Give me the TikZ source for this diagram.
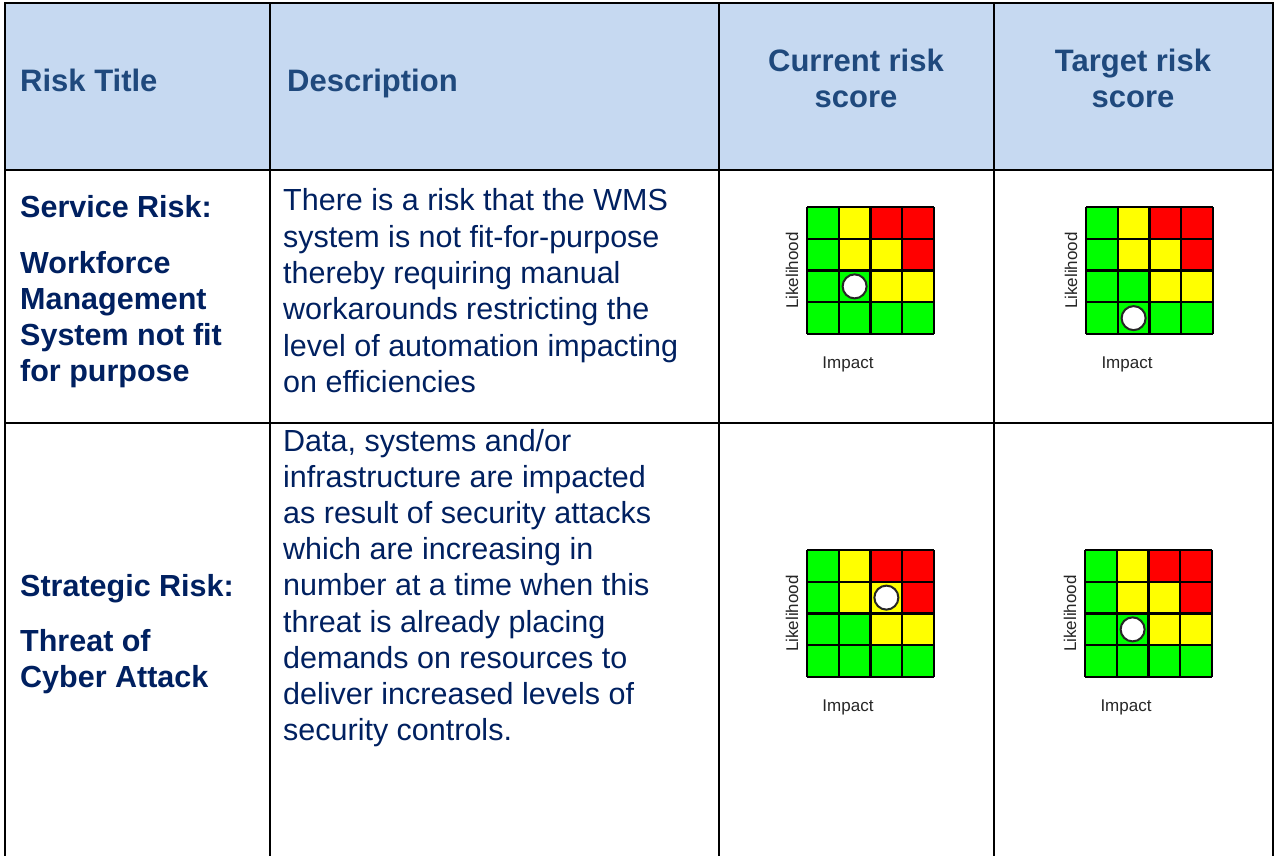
\documentclass[tikz,border=0pt]{standalone}
\usepackage{fontspec}
\setmainfont{Liberation Sans}
\definecolor{hdrfill}{RGB}{198,217,241}
\definecolor{hdrtext}{RGB}{31,73,125}
\definecolor{bodytext}{RGB}{0,32,96}
\definecolor{rg}{RGB}{0,255,0}
\definecolor{ry}{RGB}{255,255,0}
\definecolor{rr}{RGB}{255,0,0}
\tikzset{
  tblline/.style={line width=2.2pt, black},
  hdrlbl/.style={font=\fontsize{31}{36}\selectfont\bfseries, text=hdrtext, inner sep=0pt},
  titlelbl/.style={font=\fontsize{30.5}{36}\selectfont\bfseries, text=bodytext, inner sep=0pt, anchor=base west},
  desclbl/.style={font=\fontsize{30.5}{36}\selectfont, text=bodytext, inner sep=0pt, anchor=base west},
  axislbl/.style={font=\fontsize{17}{20}\selectfont, text=black!85, inner sep=0pt},
  gridline/.style={line width=2.2pt, black},
  marker/.style={circle, draw=black!85, line width=2pt, fill=white, minimum size=24pt, inner sep=0pt}
}
\newcommand\riskgrid[5]{%
  \begin{scope}[shift={(#1,#2)}]
    \foreach \c/\r/\k in {1/1/rg,2/1/ry,3/1/rr,4/1/rr,
                          1/2/rg,2/2/ry,3/2/ry,4/2/rr,
                          1/3/rg,2/3/rg,3/3/ry,4/3/ry,
                          1/4/rg,2/4/rg,3/4/rg,4/4/rg}
      \fill[\k] ({(\c-1)*31.75},{(\r-1)*31.75}) rectangle ++(31.75,31.75);
    \foreach \i in {0,...,4} {
      \draw[gridline] ({\i*31.75},0) -- ({\i*31.75},127);
      \draw[gridline] (0,{\i*31.75}) -- (127,{\i*31.75});
    }
    \node[marker] (#5dot) at ({(#3-0.5)*31.75},{(#4-0.5)*31.75}) {};
    \node[axislbl, rotate=90] (#5like) at (-15,63.5) {Likelihood};
    \node[axislbl] (#5imp) at (41,157) {Impact};
  \end{scope}}
\begin{document}
\begin{tikzpicture}[x=1pt,y=-1pt]
\useasboundingbox (0,0) rectangle (1275,856);
% header background
\fill[hdrfill] (5,3) rectangle (1273,170);
% table lines
\draw[tblline] (5,856) -- (5,3) -- (1273,3) -- (1273,856);
\draw[tblline] (270,3) -- (270,856);
\draw[tblline] (719,3) -- (719,856);
\draw[tblline] (994,3) -- (994,856);
\draw[tblline] (5,170) -- (1273,170);
\draw[tblline] (5,423) -- (1273,423);
% header texts
\node[hdrlbl, anchor=base west] (hA) at (20,92) {Risk Title};
\node[hdrlbl, anchor=base west] (hB) at (287,92) {Description};
\node[hdrlbl, anchor=base] (hC1) at (856,72) {Current risk};
\node[hdrlbl, anchor=base] (hC2) at (856,108) {score};
\node[hdrlbl, anchor=base] (hD1) at (1133,72) {Target risk};
\node[hdrlbl, anchor=base] (hD2) at (1133,108) {score};
% row 1 title
\node[titlelbl] (t1a) at (20,218) {Service Risk:};
\foreach \t [count=\i] in {Workforce, Management, System not fit, for purpose}
  \node[titlelbl] (t1b\i) at (20,{273+36.2*(\i-1)}) {\t};
% row 1 description
\foreach \t [count=\i] in {There is a risk that the WMS, system is not fit-for-purpose, thereby requiring manual, workarounds restricting the, level of automation impacting, on efficiencies}
  \node[desclbl] (d1\i) at (283,{211+36.3*(\i-1)}) {\t};
% row 2 title
\node[titlelbl] (t2a) at (20,596) {Strategic Risk:};
\foreach \t [count=\i] in {Threat of, Cyber Attack}
  \node[titlelbl] (t2b\i) at (20,{651+36.2*(\i-1)}) {\t};
% row 2 description
\foreach \t [count=\i] in {{Data, systems and/or}, infrastructure are impacted, as result of security attacks, which are increasing in, number at a time when this, threat is already placing, demands on resources to, deliver increased levels of, security controls.}
  \node[desclbl] (d2\i) at (283,{451+36.2*(\i-1)}) {\t};
% risk grids
\riskgrid{807}{207}{2}{3}{cA}
\riskgrid{1086}{207}{2}{4}{tA}
\riskgrid{807}{550}{3}{2}{cB}
\riskgrid{1085}{550}{2}{3}{tB}
\end{tikzpicture}
\end{document}
